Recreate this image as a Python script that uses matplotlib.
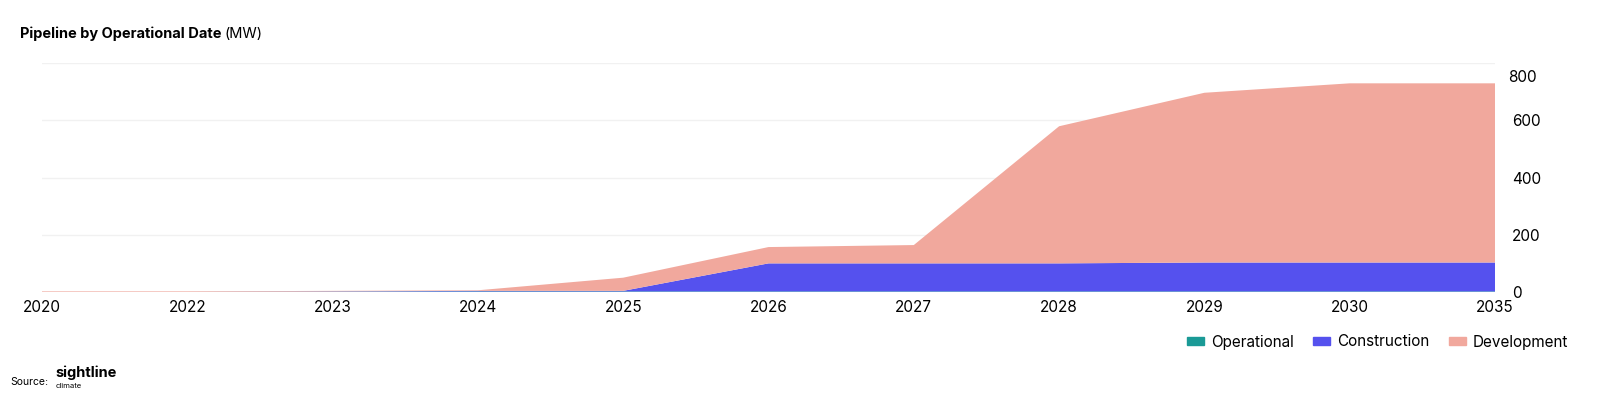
import matplotlib
matplotlib.use("Agg")
import matplotlib.pyplot as plt
import numpy as np

plt.rcParams['font.family'] = ['Inter', 'DejaVu Sans']

years = ["2020", "2022", "2023", "2024", "2025", "2026", "2027", "2028", "2029", "2030", "2035"]
operational = [0, 0, 1, 2, 2, 2, 2, 2, 2, 2, 2]
construction = [0, 0, 1, 2, 2, 98, 98, 98, 101, 101, 101]
development = [2, 2, 2, 2, 46, 57, 64, 479, 593, 626, 626]
series_names = ["Operational", "Construction", "Development"]
colors = ["#1A9A96", "#5551EE", "#F1A89D"]
yticks = [0, 200, 400, 600, 800]

fig = plt.figure(figsize=(16, 4.09), dpi=100)
ax = fig.add_axes([42/1600, 1-292/409, (1495-42)/1600, (292-63)/409])

x = np.arange(len(years))
ax.stackplot(x, operational, construction, development, colors=colors, linewidth=0)
ax.set_xlim(0, len(years)-1)
ax.set_ylim(0, 800)
ax.set_xticks(x)
ax.set_xticklabels(years, fontsize=11)
ax.set_yticks(yticks)
ax.yaxis.tick_right()
ax.set_yticklabels(["0", "200", "400", "600", ""], fontsize=11)
ax.text(1.009, 750, "800", transform=ax.get_yaxis_transform(), fontsize=11, va="center", ha="left")
ax.tick_params(axis='both', length=0, pad=6)
ax.tick_params(axis='y', pad=12)
for s in ax.spines.values():
    s.set_visible(False)
ax.grid(axis='y', color='#f1f1f1', linewidth=1)
ax.set_axisbelow(True)

fig.text(20/1600, 1-34/409, "Pipeline by Operational Date", fontsize=10.5, fontweight='bold', va='center')
fig.text(224/1600, 1-34/409, "(MW)", fontsize=10.5, va='center')

# legend
handles = [plt.Rectangle((0, 0), 1, 1, color=c) for c in colors]
fig.legend(handles, series_names, loc='center right', bbox_to_anchor=(1582/1600, 1-342/409),
           ncol=3, frameon=False, fontsize=11, handlelength=1.1, handleheight=0.5,
           columnspacing=1.3, handletextpad=0.45)

fig.text(10/1600, 1-382/409, "Source:", fontsize=7.5, va='center')
fig.text(55/1600, 1-373/409, "sightline", fontsize=10.5, fontweight='bold', va='center')
fig.text(56/1600, 1-386/409, "climate", fontsize=5.5, va='center')

fig.savefig("out.png", dpi=100)
